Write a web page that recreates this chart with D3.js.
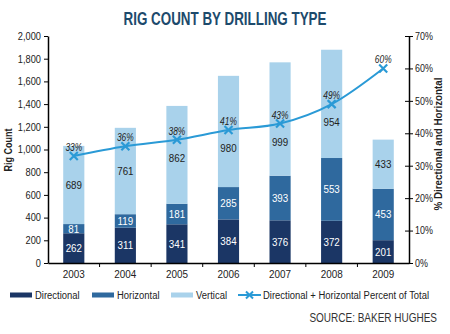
<!DOCTYPE html>
<html>
<head>
<meta charset="utf-8">
<script src="https://cdn.jsdelivr.net/npm/d3@7"></script>
<style>
  body { margin: 0; background: #fff; }
  svg { display: block; font-family: "Liberation Sans", Arial, sans-serif; }
</style>
</head>
<body>
<svg id="chart" width="450" height="334"></svg>
<script>
const years = ['2003', '2004', '2005', '2006', '2007', '2008', '2009'];
const directional = [262, 311, 341, 384, 376, 372, 201];
const horizontal = [81, 119, 181, 285, 393, 553, 453];
const vertical = [689, 761, 862, 980, 999, 954, 433];
const pctOfTotal = [33, 36, 38, 41, 43, 49, 60];
const countTicks = [0, 200, 400, 600, 800, 1000, 1200, 1400, 1600, 1800, 2000];
const pctTicks = [0, 10, 20, 30, 40, 50, 60, 70];

const colors = { Directional: '#1b3665', Horizontal: '#2f699e', Vertical: '#a9d2eb', line: '#2a9ad6' };
const margin = { left: 48, right: 41, top: 36, bottom: 71 };
const W = 450, H = 334;

const svg = d3.select('#chart');

// no condensed face installed, so squeeze the glyphs a bit
function condense(sel, f) {
  sel.each(function () {
    const n = this.getComputedTextLength();
    this.setAttribute('textLength', n * f);
    this.setAttribute('lengthAdjust', 'spacingAndGlyphs');
  });
}

const x = d3.scaleBand().domain(years).range([margin.left, W - margin.right]).paddingInner(0.59).paddingOuter(0.295);
const y = d3.scaleLinear().domain([0, 2000]).range([H - margin.bottom, margin.top]);
const yp = d3.scaleLinear().domain([0, 70]).range([H - margin.bottom, margin.top]);
const cx = d => x(d) + x.bandwidth() / 2;

// title
svg.append('text').attr('x', 225).attr('y', 25).attr('text-anchor', 'middle')
  .attr('font-size', 18).attr('font-weight', 'bold').attr('fill', '#1d4a6c')
  .attr('textLength', 203).attr('lengthAdjust', 'spacingAndGlyphs')
  .text('RIG COUNT BY DRILLING TYPE');

// stacked bars
const rows = years.map((yr, i) => ({ year: yr, Directional: directional[i], Horizontal: horizontal[i], Vertical: vertical[i] }));
const keys = ['Directional', 'Horizontal', 'Vertical'];
const stack = d3.stack().keys(keys)(rows);

const layer = svg.selectAll('.layer').data(stack).enter().append('g').attr('fill', d => colors[d.key]);
layer.selectAll('rect').data(d => d).enter().append('rect')
  .attr('x', d => x(d.data.year))
  .attr('width', x.bandwidth())
  .attr('y', d => y(d[1]))
  .attr('height', d => y(d[0]) - y(d[1]));

// segment labels; vertical ones pushed below the percent marker when they would collide
stack.forEach(s => {
  const t = svg.append('g').selectAll('text').data(s).enter().append('text')
    .attr('x', d => cx(d.data.year))
    .attr('y', (d, i) => {
      let mid = (y(d[0]) + y(d[1])) / 2;
      if (s.key === 'Vertical') {
        const my = yp(pctOfTotal[i]);
        if (Math.abs(mid - my) < 18) mid = my + 18;
      }
      return mid + 4;
    })
    .attr('text-anchor', 'middle')
    .attr('font-size', 11.5)
    .attr('fill', s.key === 'Vertical' ? '#222' : '#fff')
    .text(d => d[1] - d[0]);
  condense(t, 0.85);
});

// left axis
const yAxis = svg.append('g').attr('transform', `translate(${margin.left},0)`)
  .call(d3.axisLeft(y).tickValues(countTicks).tickFormat(d3.format(',')).tickSize(4).tickSizeOuter(0));
yAxis.select('.domain').attr('stroke', '#000').attr('stroke-width', 1.5);
yAxis.selectAll('text').attr('font-size', 10.5).attr('fill', '#222').attr('font-family', 'inherit').attr('x', -7);
condense(yAxis.selectAll('text'), 0.88);

// right axis
const rAxis = svg.append('g').attr('transform', `translate(${W - margin.right},0)`)
  .call(d3.axisRight(yp).tickValues(pctTicks).tickFormat(d => d + '%').tickSize(4).tickSizeOuter(0));
rAxis.select('.domain').attr('stroke', '#000').attr('stroke-width', 1.5);
rAxis.selectAll('.tick line').attr('x1', -4);
rAxis.selectAll('text').attr('font-size', 10.5).attr('fill', '#222').attr('font-family', 'inherit').attr('x', 6);
condense(rAxis.selectAll('text'), 0.85);

// bottom axis
const xAxis = svg.append('g').attr('transform', `translate(0,${H - margin.bottom})`)
  .call(d3.axisBottom(x).tickSize(0).tickPadding(7));
xAxis.select('.domain').attr('stroke', '#000').attr('stroke-width', 1.5);
xAxis.selectAll('text').attr('font-size', 11).attr('fill', '#222').attr('font-family', 'inherit');
condense(xAxis.selectAll('text'), 0.9);
xAxis.selectAll('.sep').data(years.slice(1)).enter().append('line')
  .attr('x1', d => x(d) - x.step() * x.paddingInner() / 2)
  .attr('x2', d => x(d) - x.step() * x.paddingInner() / 2)
  .attr('y1', 0).attr('y2', 4).attr('stroke', '#000');

// axis titles
svg.append('text').attr('transform', `translate(12,150) rotate(-90)`)
  .attr('text-anchor', 'middle').attr('font-size', 11).attr('font-weight', 'bold').attr('fill', '#222')
  .attr('textLength', 43).attr('lengthAdjust', 'spacingAndGlyphs')
  .text('Rig Count');
svg.append('text').attr('transform', `translate(442,144) rotate(-90)`)
  .attr('text-anchor', 'middle').attr('font-size', 10).attr('font-weight', 'bold').attr('fill', '#222')
  .attr('textLength', 133).attr('lengthAdjust', 'spacingAndGlyphs')
  .text('% Directional and Horizontal');

// percent line
const line = d3.line().x((d, i) => cx(years[i])).y(d => yp(d)).curve(d3.curveMonotoneX);
svg.append('path').datum(pctOfTotal).attr('d', line)
  .attr('fill', 'none').attr('stroke', colors.line).attr('stroke-width', 2);

const marks = svg.append('g').selectAll('g').data(pctOfTotal).enter().append('g')
  .attr('transform', (d, i) => `translate(${cx(years[i])},${yp(d)})`);
marks.append('path').attr('d', 'M-4,-4L4,4M-4,4L4,-4')
  .attr('stroke', colors.line).attr('stroke-width', 2.2);
const pl = marks.append('text').attr('y', -5).attr('text-anchor', 'middle')
  .attr('font-size', 10.5).attr('font-style', 'italic').attr('fill', '#222')
  .text(d => d + '%');
condense(pl, 0.8);

// legend
const legend = [
  { label: 'Directional', x: 10, type: 'bar' },
  { label: 'Horizontal', x: 92, type: 'bar' },
  { label: 'Vertical', x: 171, type: 'bar' },
  { label: 'Directional + Horizontal Percent of Total', x: 238, type: 'line' }
];
const lg = svg.append('g').selectAll('g').data(legend).enter().append('g')
  .attr('transform', d => `translate(${d.x},295)`);
lg.filter(d => d.type === 'bar').append('rect')
  .attr('x', 0).attr('y', -2.5).attr('width', 22).attr('height', 5)
  .attr('fill', d => colors[d.label]);
const lineItem = lg.filter(d => d.type === 'line');
lineItem.append('line').attr('x1', 0).attr('x2', 23).attr('stroke', colors.line).attr('stroke-width', 2);
lineItem.append('path').attr('d', 'M8,-3.5L15,3.5M8,3.5L15,-3.5').attr('stroke', colors.line).attr('stroke-width', 2);
// scaled with a transform so the drawn box matches the measured one
lg.append('text').attr('transform', 'translate(25,4) scale(0.86,1)')
  .attr('font-size', 11).attr('fill', '#222').text(d => d.label);

// source
svg.append('text').attr('transform', 'translate(437,322) scale(0.8,1)').attr('text-anchor', 'end')
  .attr('font-size', 12.5).attr('fill', '#333')
  .text('SOURCE: BAKER HUGHES');
</script>
</body>
</html>
